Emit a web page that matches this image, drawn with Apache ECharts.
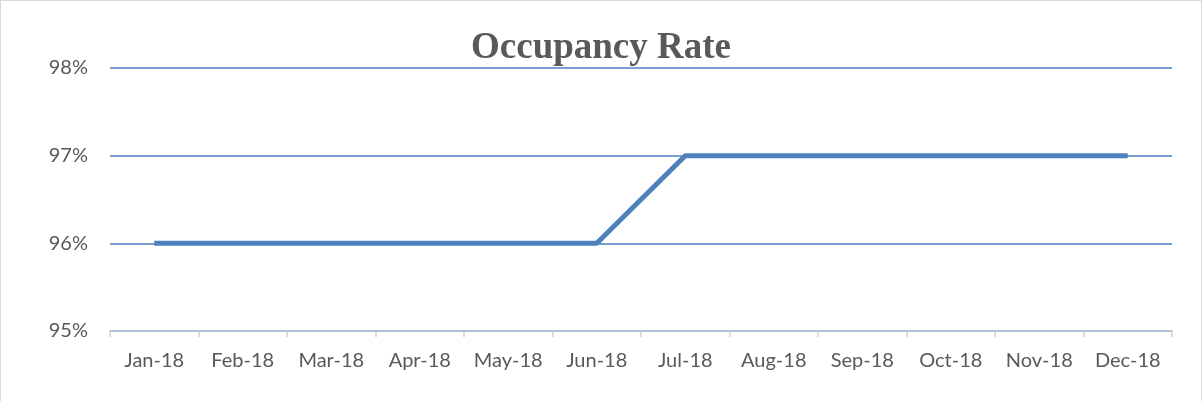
<!DOCTYPE html>
<html>
<head>
<meta charset="utf-8">
<script src="https://cdn.jsdelivr.net/npm/echarts@6/dist/echarts.min.js"></script>
<style>
  html, body { margin: 0; padding: 0; background: #fff; }
  #chart { width: 1200px; height: 400px; border: 1px solid #d9d9d9; border-bottom: none; }
</style>
</head>
<body>
<div id="chart"></div>
<script>
const months = ['Jan-18', 'Feb-18', 'Mar-18', 'Apr-18', 'May-18', 'Jun-18',
  'Jul-18', 'Aug-18', 'Sep-18', 'Oct-18', 'Nov-18', 'Dec-18']
const occupancy = [96, 96, 96, 96, 96, 96, 97, 97, 97, 97, 97, 97]
const yMin = 95
const yMax = 98

const chart = echarts.init(document.getElementById('chart'))
chart.setOption({
  animation: false,
  title: {
    text: 'Occupancy Rate',
    left: 'center',
    top: 24,
    textStyle: {
      fontFamily: 'Liberation Serif',
      fontWeight: 'bold',
      fontSize: 37,
      color: '#595959'
    }
  },
  grid: {
    left: 109,
    right: 29,
    top: 67,
    bottom: 70
  },
  xAxis: {
    type: 'category',
    data: months,
    boundaryGap: true,
    axisLine: { lineStyle: { color: '#c0cad8', width: 1.5 } },
    axisTick: { show: true, interval: 0, length: 6, lineStyle: { color: '#d0d0d0', width: 1.5 } },
    axisLabel: {
      interval: 0,
      color: '#595959',
      fontFamily: 'Lato',
      fontSize: 20,
      margin: 20
    }
  },
  yAxis: {
    type: 'value',
    min: yMin,
    max: yMax,
    interval: 1,
    axisLine: { show: false },
    axisTick: { show: false },
    axisLabel: {
      formatter: '{value}%',
      color: '#595959',
      fontFamily: 'Lato',
      fontSize: 20,
      margin: 22
    },
    splitLine: { lineStyle: { color: '#4a7ebb', width: 1.5 } }
  },
  series: [{
    type: 'line',
    data: occupancy,
    symbol: 'none',
    lineStyle: { color: '#4f81bd', width: 5 }
  }]
})
</script>
</body>
</html>
